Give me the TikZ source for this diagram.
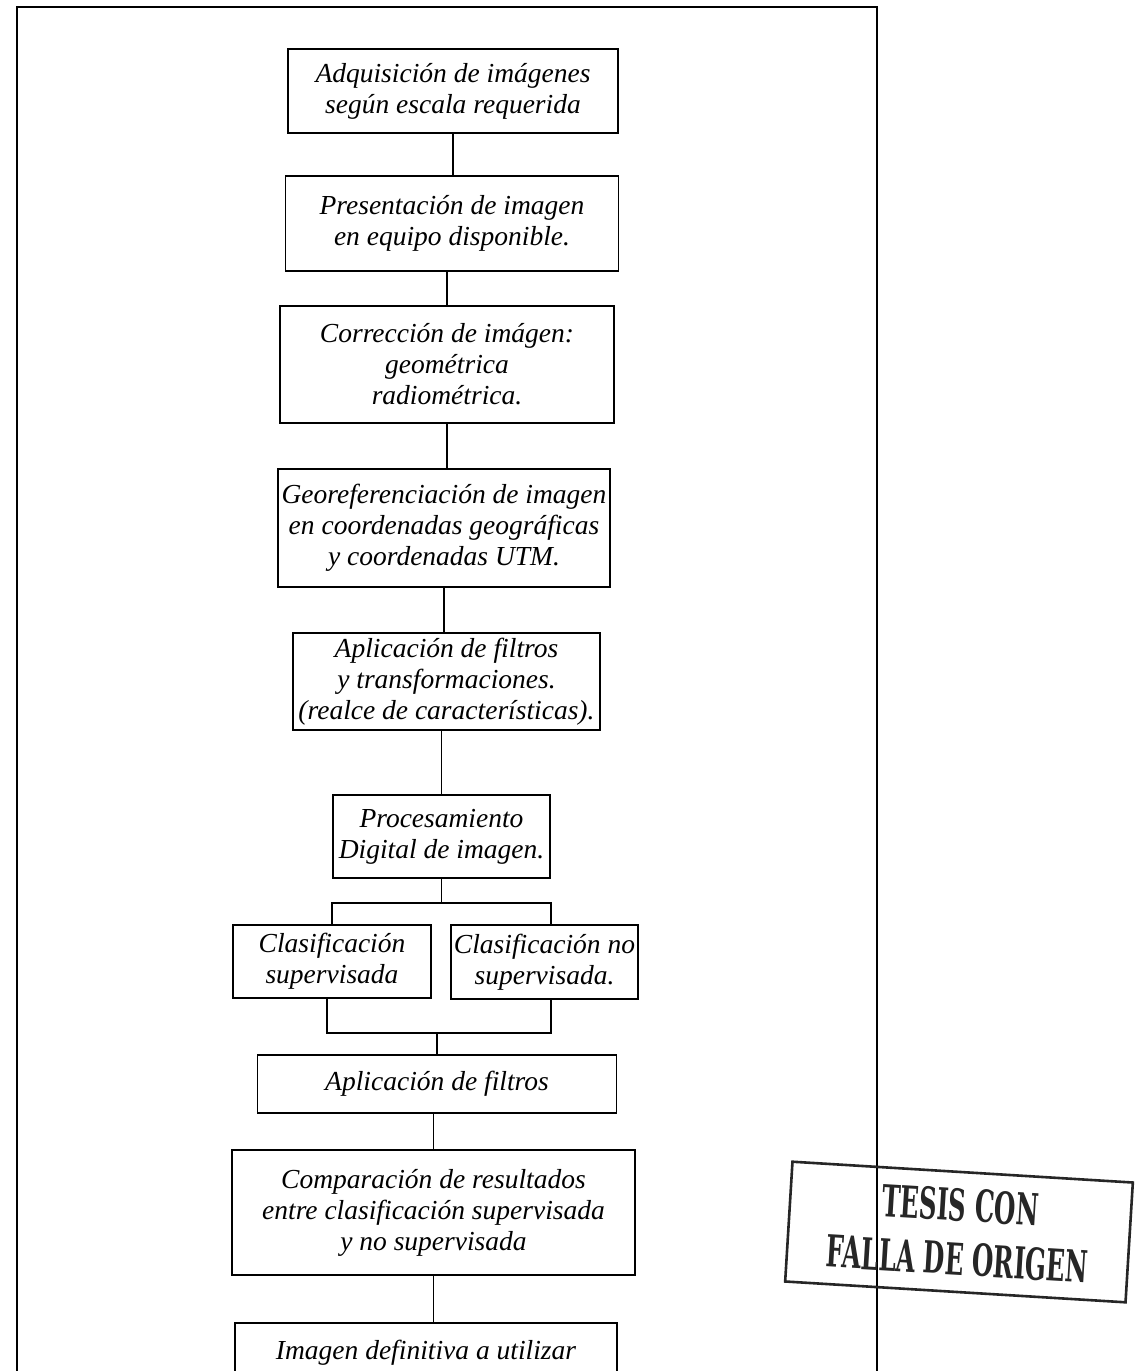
\documentclass[tikz,border=0pt]{standalone}
\usepackage{fontspec}
\usepackage{graphicx}
\setmainfont{Liberation Serif}
\newfontfamily\stampfont{DejaVu Serif}
\begin{document}
\begin{tikzpicture}[x=1pt,y=-1pt,
  stepbox/.style={draw, line width=1.3pt, inner sep=0pt, align=center,
    font=\fontsize{27.5}{31}\selectfont\itshape},
  link/.style={line width=1.2pt},
  frame/.style={line width=2pt},
  stampbox/.style={draw, line width=2.6pt, black!85, text=black!85,
    rotate=-3.5, align=center, inner sep=0pt,
    font=\stampfont\bfseries\fontsize{44}{54}\selectfont}]
\clip (0,0) rectangle (1143,1371);
\fill[white] (0,0) rectangle (1143,1371);

% page frame (open at the bottom)
\draw[frame] (17,1395) -- (17,7) -- (877,7) -- (877,1395);

% process steps
\node[stepbox, minimum width=330pt, minimum height=84pt]  (B1)  at (453,91)
  {Adquisición de imágenes\\según escala requerida};
\node[stepbox, minimum width=333pt, minimum height=95pt]  (B2)  at (452,223.5)
  {Presentación de imagen\\en equipo disponible.};
\node[stepbox, minimum width=334pt, minimum height=117pt] (B3)  at (447,364.5)
  {Corrección de imágen:\\geométrica\\radiométrica.};
\node[stepbox, minimum width=332pt, minimum height=118pt] (B4)  at (444,528)
  {Georeferenciación de imagen\\en coordenadas geográficas\\y coordenadas UTM.};
\node[stepbox, minimum width=307pt, minimum height=97pt]  (B5)  at (446.5,681.5)
  {Aplicación de filtros\\y transformaciones.\\(realce de características).};
\node[stepbox, minimum width=217pt, minimum height=83pt]  (B6)  at (441.5,836.5)
  {Procesamiento\\Digital de imagen.};
\node[stepbox, minimum width=198pt, minimum height=73pt]  (B7a) at (332,961.5)
  {Clasificación\\supervisada};
\node[stepbox, minimum width=187pt, minimum height=74pt]  (B7b) at (544.5,962)
  {Clasificación no\\supervisada.};
\node[stepbox, minimum width=359pt, minimum height=58pt]  (B8)  at (437,1084)
  {Aplicación de filtros};
\node[stepbox, minimum width=403pt, minimum height=125pt] (B9)  at (433.5,1212.5)
  {Comparación de resultados\\entre clasificación supervisada\\y no supervisada};
\node[stepbox, minimum width=382pt, minimum height=60pt]  (B10) at (426,1353)
  {Imagen definitiva a utilizar};

% straight links
\draw[link] (B1.south) -- (B1.south |- B2.north);
\draw[link] (B3.north) -- (B3.north |- B2.south);
\draw[link] (B3.south) -- (B3.south |- B4.north);
\draw[link] (B4.south) -- (B4.south |- B5.north);
\draw[link] (B6.north) -- (B6.north |- B5.south);
\draw[link] (B9.north) -- (B9.north |- B8.south);
\draw[link] (B9.south) -- (B9.south |- B10.north);

% split into the two classifications
\coordinate (fL) at (332,903);
\coordinate (fR) at (551,903);
\draw[link] (B6.south) -- (B6.south |- fL);
\draw[link] (fL |- B7a.north) -- (fL) -- (fR) -- (fR |- B7b.north);

% join back into the filtering step
\coordinate (jL) at (327,1033);
\coordinate (jR) at (551,1033);
\draw[link] (jL |- B7a.south) -- (jL) -- (jR) -- (jR |- B7b.south);
\draw[link] (B8.north) -- (B8.north |- jL);

% rubber stamp
\node[stampbox, minimum width=341pt, minimum height=120pt] (stamp) at (959,1232)
  {\scalebox{0.56}[1]{TESIS CON}\\\scalebox{0.56}[1]{FALLA DE ORIGEN}};
\end{tikzpicture}
\end{document}
